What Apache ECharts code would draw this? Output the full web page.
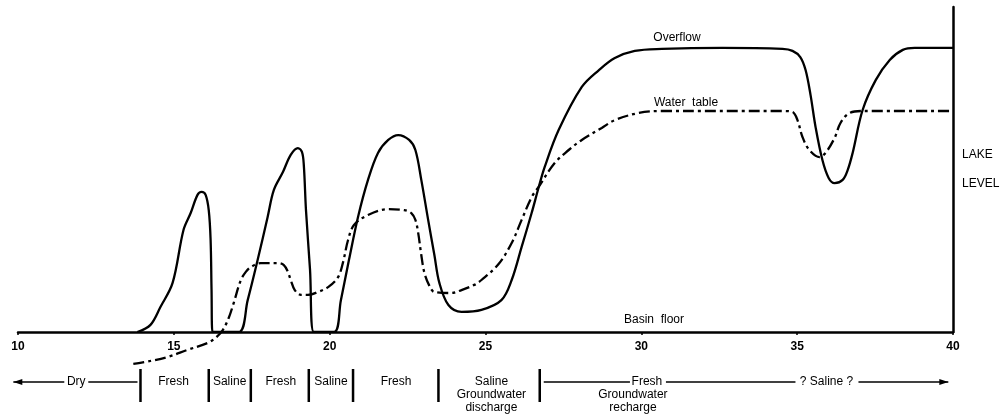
<!DOCTYPE html>
<html>
<head>
<meta charset="utf-8">
<script src="https://cdn.jsdelivr.net/npm/echarts@6/dist/echarts.min.js"></script>
<style>html,body{margin:0;padding:0;background:#fff}#c{width:1001px;height:417px}</style>
</head>
<body>
<div id="c"></div>
<script>
// Overflow lake level curve [x, level]
var overflow = [
[13.83,0],[14.25,2.2],[14.57,7.7],[14.96,15.1],[15.31,31.4],[15.54,36.6],[15.76,42.2],[15.89,43.1],[16.02,42.2],[16.12,37.5],[16.18,28.3],[16.21,12.9],[16.24,0],
[17.08,0],[17.37,9.8],[17.69,22.2],[18.01,35.4],[18.21,43.7],[18.50,49.2],[18.75,54.5],[18.98,56.6],[19.11,55.4],[19.17,51.4],[19.24,37.5],[19.37,19.1],[19.49,0],
[20.14,0],[20.36,9.8],[20.62,22.2],[20.91,35.4],[21.23,46.8],[21.55,55.1],[21.88,59.1],[22.20,60.6],[22.55,59.1],[22.75,56.0],[22.94,46.8],[23.16,34.5],[23.36,23.7],[23.52,15.1],[23.81,8.3],[24.23,6.2],[24.87,6.8],[25.51,9.8],[25.84,16.0],[26.16,26.2],[26.48,36.6],[26.70,44.3],[26.90,50.8],[27.35,62.2],[28.09,75.4],[28.64,80.6],[29.15,84.3],[29.79,86.5],[30.66,87.1],[32.59,87.4],[34.53,87.1],[34.85,86.5],[35.10,84.6],[35.27,80.6],[35.43,72.9],[35.59,63.1],[35.81,52.9],[36.01,47.4],[36.20,45.8],[36.46,46.8],[36.62,49.8],[36.78,55.1],[37.10,68.3],[37.52,77.5],[37.97,83.7],[38.39,86.8],[38.77,87.4],[40.0,87.4]
];
// Water table curve [x, level]
var waterTable = [
[13.70,-9.8],[14.25,-8.9],[14.80,-7.7],[15.44,-5.5],[16.08,-3.4],[16.34,-1.8],[16.57,0.6],[16.76,4.3],[16.92,8.9],[17.15,16.0],[17.31,18.5],[17.47,20.0],[17.79,21.2],[18.34,21.2],[18.53,20.6],[18.66,18.5],[18.75,16.0],[18.88,12.9],[19.08,11.4],[19.30,11.4],[19.62,12.3],[19.95,13.8],[20.27,16.9],[20.43,21.5],[20.59,28.3],[20.78,32.9],[21.23,36.0],[21.88,37.8],[22.39,37.5],[22.62,36.6],[22.75,34.5],[22.84,30.5],[22.94,23.7],[23.04,18.2],[23.20,14.2],[23.36,12.3],[23.90,12.0],[24.23,12.9],[24.64,14.5],[24.87,16.0],[25.42,20.9],[25.84,27.4],[26.16,34.5],[26.48,41.5],[26.70,44.6],[27.22,52.0],[27.67,56.0],[28.09,59.1],[28.73,62.8],[29.15,65.2],[29.92,67.4],[30.66,68.0],[34.53,68.0],[34.85,67.7],[35.01,65.2],[35.17,60.0],[35.39,56.0],[35.72,53.8],[35.91,55.1],[36.20,59.7],[36.39,64.3],[36.68,67.4],[37.10,68.0],[40.0,68.0]
];
// Zone boundaries (x values) and zone labels
var zoneBounds = [13.93, 16.12, 17.47, 19.33, 20.75, 23.49, 26.74];
var zoneLabels = [
  {x: 11.87, text: 'Dry'},
  {x: 14.99, text: 'Fresh'},
  {x: 16.79, text: 'Saline'},
  {x: 18.43, text: 'Fresh'},
  {x: 20.04, text: 'Saline'},
  {x: 22.13, text: 'Fresh'},
  {x: 25.19, text: 'Saline\nGroundwater\ndischarge'},
  {x: 30.18, text: 'Fresh'},
  {x: 29.73, text: '\nGroundwater\nrecharge'},
  {x: 35.94, text: '? Saline ?'}
];
var xTicks = [10, 15, 20, 25, 30, 35, 40];

var chart = echarts.init(document.getElementById('c'));
var FONT = '"Liberation Sans", Arial, sans-serif';
chart.setOption({
  animation: false,
  grid: {left: 18, right: 48, top: 7, bottom: 85},
  xAxis: {
    type: 'value', min: 10, max: 40, interval: 5,
    axisLine: {lineStyle: {color: '#000', width: 2.5}},
    axisTick: {show: true, length: 3, lineStyle: {color: '#000', width: 1.5}},
    axisLabel: {color: '#000', fontSize: 12, fontWeight: 'bold', fontFamily: FONT, margin: 9,
      formatter: function (v) { return xTicks.indexOf(v) >= 0 ? String(v) : ''; }},
    splitLine: {show: false}
  },
  yAxis: {
    type: 'value', min: 0, max: 100, position: 'right',
    axisLine: {show: true, lineStyle: {color: '#000', width: 2.5}},
    axisTick: {show: false}, axisLabel: {show: false}, splitLine: {show: false}
  },
  series: [
    {name: 'Overflow', type: 'line', data: overflow, symbol: 'none', smooth: 0.35,
      lineStyle: {color: '#000', width: 2.3}, clip: true},
    {name: 'Water table', type: 'line', data: waterTable, symbol: 'none', smooth: 0.35,
      lineStyle: {color: '#000', width: 2.3, type: [11, 4, 3, 4]}, clip: false}
  ]
});

function px(x) { return chart.convertToPixel({gridIndex: 0}, [x, 0])[0]; }
var g = [];
function txt(text, x, y, align) {
  g.push({type: 'text', style: {text: text, x: x, y: y, fill: '#000', font: '12px ' + FONT,
    align: align || 'center', verticalAlign: 'middle', lineHeight: 13}});
}
function ln(x1, y1, x2, y2, w) {
  g.push({type: 'line', shape: {x1: x1, y1: y1, x2: x2, y2: y2}, style: {stroke: '#000', lineWidth: w || 1.5}});
}
function head(x, y, dir) {
  g.push({type: 'polygon', shape: {points: [[x, y], [x - dir * 9, y - 3], [x - dir * 9, y + 3]]}, style: {fill: '#000'}});
}
// curve labels
txt('Overflow', 677, 38);
txt('Water  table', 686, 103);
txt('Basin  floor', 654, 320);
txt('LAKE', 962, 155, 'left');
txt('LEVEL', 962, 184, 'left');
// zone bars
zoneBounds.forEach(function (b) { ln(px(b), 369, px(b), 402, 2.5); });
// zone labels
var yRow = 382;
zoneLabels.forEach(function (z) {
  var t = z.text;
  var lines = t.split('\n').length;
  txt(t, px(z.x), yRow + (lines - 1) * 6.5);
});
// arrows
var dryX = px(zoneLabels[0].x);
ln(px(9.85), yRow, dryX - 12, yRow, 1.5); head(px(9.85), yRow, -1);
ln(dryX + 12, yRow, px(zoneBounds[0]) - 3, yRow, 1.5);
var fx = px(zoneLabels[7].x), sx = px(zoneLabels[9].x);
ln(px(zoneBounds[6]) + 4, yRow, fx - 17, yRow, 1.5);
ln(fx + 19, yRow, sx - 31, yRow, 1.5);
ln(sx + 32, yRow, px(39.85), yRow, 1.5); head(px(39.85), yRow, 1);
chart.setOption({graphic: g});
</script>
</body>
</html>
